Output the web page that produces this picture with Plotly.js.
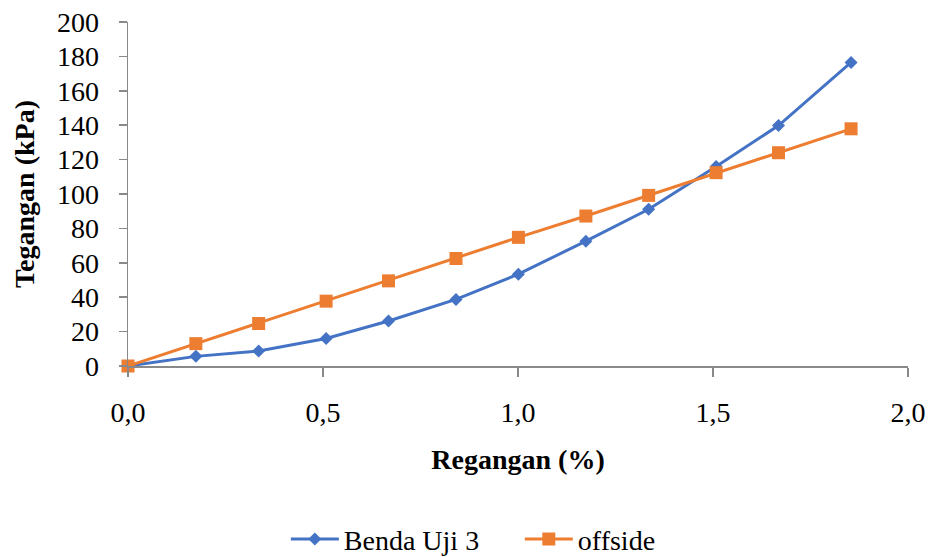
<!DOCTYPE html>
<html>
<head>
<meta charset="utf-8">
<script src="https://cdn.plot.ly/plotly-3.0.1.min.js"></script>
<style>html,body{margin:0;padding:0;background:#fff;}#chart{width:931px;height:557px;}</style>
</head>
<body>
<div id="chart"></div>
<script>
// Data
const strain = [0, 0.174, 0.335, 0.508, 0.668, 0.841, 1.001, 1.174, 1.335, 1.508, 1.668, 1.854];
const stressBenda = [0, 5.6, 8.7, 16.0, 26.2, 38.7, 53.4, 72.6, 91.1, 116.0, 139.8, 176.5];
const stressOffside = [0, 13.0, 24.7, 37.7, 49.5, 62.5, 74.8, 87.2, 99.2, 112.4, 124.0, 137.9];
const seriesNames = ["Benda Uji 3", "offside"];
const xTicks = [0, 0.5, 1.0, 1.5, 2.0];
const yTicks = [0, 20, 40, 60, 80, 100, 120, 140, 160, 180, 200];

const FONT = "Liberation Serif, Times New Roman, serif";
const axisGray = "#898989";

const traces = [
  {
    x: strain, y: stressBenda, name: seriesNames[0], type: "scatter", mode: "lines+markers",
    line: {color: "#4472C4", width: 3},
    marker: {symbol: "diamond", size: 10, color: "#4472C4"},
    cliponaxis: false
  },
  {
    x: strain, y: stressOffside, name: seriesNames[1], type: "scatter", mode: "lines+markers",
    line: {color: "#ED7D31", width: 3},
    marker: {symbol: "square", size: 13, color: "#ED7D31"},
    cliponaxis: false
  }
];

const layout = {
  width: 931, height: 557,
  margin: {l: 128, r: 23, t: 22, b: 191},
  paper_bgcolor: "#fff", plot_bgcolor: "#fff",
  separators: ",.",
  font: {family: FONT, size: 28, color: "#000"},
  showlegend: true,
  legend: {
    orientation: "h", xref: "container", yref: "container",
    x: 0.307, xanchor: "left", y: 0.032, yanchor: "middle",
    font: {family: FONT, size: 28, color: "#000"},
    itemwidth: 48,
    entrywidth: 171, entrywidthmode: "pixels",
    bgcolor: "rgba(0,0,0,0)"
  },
  xaxis: {
    range: [0, 2], tickvals: xTicks, tickformat: ".1f",
    showgrid: false, zeroline: false,
    showline: true, linecolor: axisGray, linewidth: 1.5,
    ticks: "outside", ticklen: 9, tickcolor: axisGray, tickwidth: 1.5,
    ticklabelstandoff: 12,
    tickfont: {family: FONT, size: 28, color: "#000"},
    title: {text: "<b>Regangan (%)</b>", font: {family: FONT, size: 28, color: "#000"}, standoff: 22}
  },
  yaxis: {
    range: [0, 200], tickvals: yTicks,
    showgrid: false, zeroline: false,
    showline: true, linecolor: axisGray, linewidth: 1.5,
    ticks: "outside", ticklen: 8, tickcolor: axisGray, tickwidth: 1.5,
    ticklabelstandoff: 14,
    tickfont: {family: FONT, size: 28, color: "#000"},
    title: {text: "<b>Tegangan (kPa)</b>", font: {family: FONT, size: 28, color: "#000"}, standoff: 14}
  }
};

Plotly.newPlot("chart", traces, layout, {displayModeBar: false, staticPlot: true});
</script>
</body>
</html>
